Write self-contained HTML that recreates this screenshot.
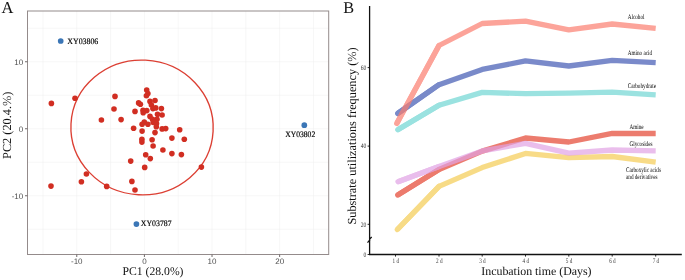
<!DOCTYPE html>
<html><head><meta charset="utf-8"><style>
html,body{margin:0;padding:0;background:#fff;width:685px;height:280px;overflow:hidden}
svg{display:block;will-change:transform}
text{text-rendering:geometricPrecision}
</style></head><body>
<svg width="685" height="280" viewBox="0 0 685 280">
<rect width="685" height="280" fill="#fff"/>
<g stroke="#eeeeee" stroke-width="0.5"><line x1="42.96" y1="11.0" x2="42.96" y2="254.5"/><line x1="76.78" y1="11.0" x2="76.78" y2="254.5"/><line x1="110.59" y1="11.0" x2="110.59" y2="254.5"/><line x1="144.40" y1="11.0" x2="144.40" y2="254.5"/><line x1="178.21" y1="11.0" x2="178.21" y2="254.5"/><line x1="212.03" y1="11.0" x2="212.03" y2="254.5"/><line x1="245.84" y1="11.0" x2="245.84" y2="254.5"/><line x1="279.65" y1="11.0" x2="279.65" y2="254.5"/><line x1="313.46" y1="11.0" x2="313.46" y2="254.5"/><line x1="27.5" y1="229.25" x2="328.7" y2="229.25"/><line x1="27.5" y1="195.75" x2="328.7" y2="195.75"/><line x1="27.5" y1="162.25" x2="328.7" y2="162.25"/><line x1="27.5" y1="128.75" x2="328.7" y2="128.75"/><line x1="27.5" y1="95.25" x2="328.7" y2="95.25"/><line x1="27.5" y1="61.75" x2="328.7" y2="61.75"/><line x1="27.5" y1="28.25" x2="328.7" y2="28.25"/></g>
<ellipse cx="142.05" cy="127.45" rx="71.15" ry="67.35" transform="rotate(3 142.05 127.45)" fill="none" stroke="#dc3f33" stroke-width="1.35"/>
<g fill="#d12e22"><circle cx="51.4" cy="103.4" r="2.8"/><circle cx="75" cy="98.3" r="2.8"/><circle cx="115" cy="96.4" r="2.8"/><circle cx="114" cy="109" r="2.8"/><circle cx="101.4" cy="120" r="2.8"/><circle cx="121.1" cy="119.6" r="2.8"/><circle cx="135" cy="111.4" r="2.8"/><circle cx="133.6" cy="128.3" r="2.8"/><circle cx="130.7" cy="161.1" r="2.8"/><circle cx="86.4" cy="174" r="2.8"/><circle cx="81.4" cy="181.7" r="2.8"/><circle cx="51" cy="186.1" r="2.8"/><circle cx="106.7" cy="186.4" r="2.8"/><circle cx="131.9" cy="181.4" r="2.8"/><circle cx="135" cy="190" r="2.8"/><circle cx="145.7" cy="154.7" r="2.8"/><circle cx="150.3" cy="158.6" r="2.8"/><circle cx="144.7" cy="167.4" r="2.8"/><circle cx="162.9" cy="150" r="2.8"/><circle cx="171.9" cy="153.6" r="2.8"/><circle cx="181.4" cy="154.6" r="2.8"/><circle cx="171.9" cy="138.1" r="2.8"/><circle cx="184.3" cy="139.3" r="2.8"/><circle cx="179.7" cy="129.8" r="2.8"/><circle cx="201.4" cy="167.1" r="2.8"/><circle cx="153.1" cy="146" r="2.8"/><circle cx="152.1" cy="139.7" r="2.8"/><circle cx="141.9" cy="139.3" r="2.8"/><circle cx="141.9" cy="142.1" r="2.8"/><circle cx="142.1" cy="131.1" r="2.8"/><circle cx="155" cy="132.6" r="2.8"/><circle cx="146.7" cy="90" r="2.8"/><circle cx="147.9" cy="93.6" r="2.8"/><circle cx="146.4" cy="95.7" r="2.8"/><circle cx="138.6" cy="102.9" r="2.8"/><circle cx="140.4" cy="104.3" r="2.8"/><circle cx="150" cy="101.4" r="2.8"/><circle cx="155" cy="100.5" r="2.8"/><circle cx="151.4" cy="105" r="2.8"/><circle cx="155.7" cy="107.9" r="2.8"/><circle cx="161.4" cy="108.6" r="2.8"/><circle cx="143.0" cy="110.2" r="2.8"/><circle cx="146.8" cy="110.6" r="2.8"/><circle cx="143.2" cy="112.8" r="2.8"/><circle cx="150" cy="116.4" r="2.8"/><circle cx="157.5" cy="114.3" r="2.8"/><circle cx="162.1" cy="115" r="2.8"/><circle cx="157" cy="119.3" r="2.8"/><circle cx="152.5" cy="119.2" r="2.8"/><circle cx="153.2" cy="122.5" r="2.8"/><circle cx="144.3" cy="122.1" r="2.8"/><circle cx="142.1" cy="124.3" r="2.8"/><circle cx="147.9" cy="124.3" r="2.8"/><circle cx="156.5" cy="123.5" r="2.8"/><circle cx="156.3" cy="126.8" r="2.8"/><circle cx="162.1" cy="128.9" r="2.8"/><circle cx="165.7" cy="128.6" r="2.8"/><circle cx="152.9" cy="108.6" r="2.8"/></g>
<g fill="#3b76b6"><circle cx="60.7" cy="41.0" r="2.85"/><circle cx="304.3" cy="125.2" r="2.85"/><circle cx="136.4" cy="224.1" r="2.85"/></g>
<rect x="27.5" y="11.0" width="301.2" height="243.5" fill="none" stroke="#948b8b" stroke-width="1"/>
<g stroke="#6f6868" stroke-width="1"><line x1="76.78" y1="254.5" x2="76.78" y2="257.0"/><line x1="144.40" y1="254.5" x2="144.40" y2="257.0"/><line x1="212.03" y1="254.5" x2="212.03" y2="257.0"/><line x1="279.65" y1="254.5" x2="279.65" y2="257.0"/><line x1="25.0" y1="61.75" x2="27.5" y2="61.75"/><line x1="25.0" y1="128.75" x2="27.5" y2="128.75"/><line x1="25.0" y1="195.75" x2="27.5" y2="195.75"/></g>
<g font-family="Liberation Sans" font-size="8" fill="#4d4d4d"><text x="76.78" y="264.0" text-anchor="middle">-10</text><text x="144.40" y="264.0" text-anchor="middle">0</text><text x="212.03" y="264.0" text-anchor="middle">10</text><text x="279.65" y="264.0" text-anchor="middle">20</text><text x="23.2" y="64.75" text-anchor="end">10</text><text x="23.2" y="131.75" text-anchor="end">0</text><text x="23.2" y="198.75" text-anchor="end">-10</text></g>
<g font-family="Liberation Serif" font-size="8.4" fill="#000" stroke="#000" stroke-width="0.18"><text x="67.3" y="44" textLength="31" lengthAdjust="spacingAndGlyphs">XY03806</text><text x="285.2" y="136.9" textLength="30" lengthAdjust="spacingAndGlyphs">XY03802</text><text x="140.8" y="226" textLength="30.8" lengthAdjust="spacingAndGlyphs">XY03787</text></g>
<g font-family="Liberation Serif" fill="#111"><text x="1.5" y="12.6" font-size="16.5">A</text><text x="343.3" y="12.9" font-size="16.3">B</text><text x="153" y="275.2" font-size="11.7" text-anchor="middle">PC1 (28.0%)</text><text transform="translate(10.7 125.3) rotate(-90)" font-size="12.3" text-anchor="middle">PC2 (20.4.%)</text><text x="536.4" y="275" font-size="11.9" text-anchor="middle">Incubation time (Days)</text><text transform="translate(356.3 136.0) rotate(-90)" font-size="12.3" text-anchor="middle">Substrate utilizations frequency (%)</text></g>
<g opacity="0.7" stroke="#f5cc54" stroke-width="5.3" fill="none" stroke-linejoin="round"><polyline points="397.34,229.49 439.0,186.4 482.2,167.6 525.5,153.4 568.8,157.6 612.2,156.5 655.7,162.2" stroke-linecap="butt"/><line x1="397.34" y1="229.49" x2="439.0" y2="186.4" stroke-linecap="round"/></g>
<g opacity="0.7" stroke="#e44430" stroke-width="5.3" fill="none" stroke-linejoin="round"><polyline points="397.75,195.01 439.0,169.5 482.2,151.1 525.5,138.0 568.8,142.0 612.2,133.4 655.7,133.5" stroke-linecap="butt"/><line x1="397.75" y1="195.01" x2="439.0" y2="169.5" stroke-linecap="round"/></g>
<g opacity="0.7" stroke="#e1a2e4" stroke-width="5.3" fill="none" stroke-linejoin="round"><polyline points="397.99,181.68 439.0,166.5 482.2,150.9 525.5,143.4 568.8,153.2 612.2,150.0 655.7,150.9" stroke-linecap="butt"/><line x1="397.99" y1="181.68" x2="439.0" y2="166.5" stroke-linecap="round"/></g>
<g opacity="0.7" stroke="#70d6d3" stroke-width="5.3" fill="none" stroke-linejoin="round"><polyline points="397.78,129.74 439.0,105.2 482.2,92.4 525.5,93.7 568.8,93.2 612.2,92.2 655.7,94.9" stroke-linecap="butt"/><line x1="397.78" y1="129.74" x2="439.0" y2="105.2" stroke-linecap="round"/></g>
<g opacity="0.7" stroke="#4159b3" stroke-width="5.3" fill="none" stroke-linejoin="round"><polyline points="397.67,113.49 439.0,84.7 482.2,69.4 525.5,60.9 568.8,66.0 612.2,60.4 655.7,62.6" stroke-linecap="butt"/><line x1="397.67" y1="113.49" x2="439.0" y2="84.7" stroke-linecap="round"/></g>
<g opacity="0.7" stroke="#fb7d6f" stroke-width="5.3" fill="none" stroke-linejoin="round"><polyline points="396.76,123.47 439.0,45.5 482.2,23.5 525.5,21.2 568.8,29.8 612.2,24.0 655.7,28.3" stroke-linecap="butt"/><line x1="396.76" y1="123.47" x2="439.0" y2="45.5" stroke-linecap="round"/></g>
<g stroke="#111" stroke-width="1.3" fill="none"><line x1="369.6" y1="6" x2="369.6" y2="254.5"/><line x1="368.95" y1="254.5" x2="681.8" y2="254.5"/></g>
<g stroke="#111" stroke-width="0.9"><line x1="367.6" y1="67.6" x2="369.4" y2="67.6"/><line x1="367.6" y1="146.1" x2="369.4" y2="146.1"/><line x1="367.6" y1="224.3" x2="369.4" y2="224.3"/><line x1="367.6" y1="254.5" x2="369.4" y2="254.5"/><line x1="395.5" y1="254.5" x2="395.5" y2="256.6"/><line x1="439.0" y1="254.5" x2="439.0" y2="256.6"/><line x1="482.2" y1="254.5" x2="482.2" y2="256.6"/><line x1="525.5" y1="254.5" x2="525.5" y2="256.6"/><line x1="568.8" y1="254.5" x2="568.8" y2="256.6"/><line x1="612.2" y1="254.5" x2="612.2" y2="256.6"/><line x1="655.7" y1="254.5" x2="655.7" y2="256.6"/></g>
<path d="M371.7 237.0 L369.4 239.2 M369.9 239.9 L367.5 242.6" stroke="#111" stroke-width="1.3" fill="none"/>
<g font-family="Liberation Serif" font-size="6.9" fill="#333" xml:space="preserve"><text x="360.7" y="69.89999999999999" textLength="5.6" lengthAdjust="spacingAndGlyphs" font-size="6.9">60</text><text x="360.7" y="148.4" textLength="5.6" lengthAdjust="spacingAndGlyphs" font-size="6.9">40</text><text x="360.7" y="226.60000000000002" textLength="5.6" lengthAdjust="spacingAndGlyphs" font-size="6.9">20</text><text x="363.5" y="256.8" textLength="2.8" lengthAdjust="spacingAndGlyphs" font-size="6.9">0</text><text x="392.5" y="263.1" textLength="6.5" lengthAdjust="spacingAndGlyphs" fill="#3a3a3a">1 d</text><text x="436.0" y="263.1" textLength="6.5" lengthAdjust="spacingAndGlyphs" fill="#3a3a3a">2 d</text><text x="479.2" y="263.1" textLength="6.5" lengthAdjust="spacingAndGlyphs" fill="#3a3a3a">3 d</text><text x="522.5" y="263.1" textLength="6.5" lengthAdjust="spacingAndGlyphs" fill="#3a3a3a">4 d</text><text x="565.8" y="263.1" textLength="6.5" lengthAdjust="spacingAndGlyphs" fill="#3a3a3a">5 d</text><text x="609.2" y="263.1" textLength="6.5" lengthAdjust="spacingAndGlyphs" fill="#3a3a3a">6 d</text><text x="652.7" y="263.1" textLength="6.5" lengthAdjust="spacingAndGlyphs" fill="#3a3a3a">7 d</text></g>
<g font-family="Liberation Serif" font-size="7" fill="#000" text-rendering="geometricPrecision"><text transform="translate(627.8 18.8) scale(0.74 1)">Alcohol</text><text transform="translate(627.8 55.3) scale(0.74 1)">Amino acid</text><text transform="translate(627.8 87.5) scale(0.74 1)">Carbohydrate</text><text transform="translate(629.5 128.6) scale(0.74 1)">Amine</text><text transform="translate(629.5 145.9) scale(0.74 1)">Glycosides</text><text transform="translate(626 172.0) scale(0.74 1)">Carboxylic acids</text><text transform="translate(626 179.0) scale(0.74 1)">and derivatives</text></g>
</svg>
</body></html>
